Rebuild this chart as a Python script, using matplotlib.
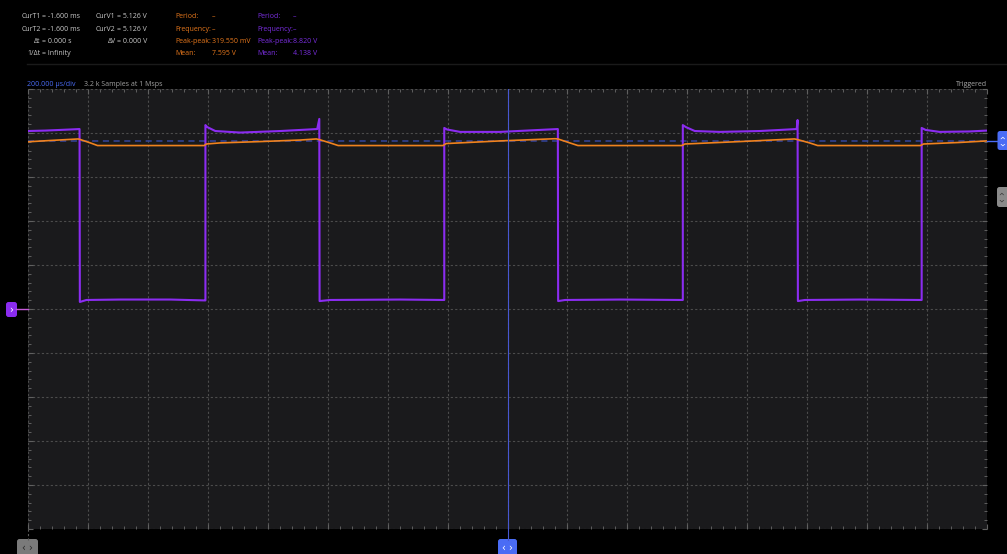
import matplotlib.pyplot as plt
import matplotlib.transforms as mtransforms
from matplotlib.patches import FancyBboxPatch
from matplotlib.lines import Line2D
from matplotlib.ticker import MultipleLocator

plt.rcParams['font.family'] = ['Open Sans', 'DejaVu Sans']

# --- data (time in us, volts; both channels 2 V/div, ground at centre)
ch1_t = [-1600, -1542, -1458, -1428, -1427, -1405, -1292, -1125, -1010, -1008, -1008, -1002,
         -975, -892, -758, -635, -628, -627, -592, -358, -212, -211, -211, -202, -158, -25,
         108, 168, 169, 192, 375, 583, 585, 585, 595, 625, 708, 842, 965, 968, 969, 992,
         1175, 1380, 1382, 1382, 1395, 1442, 1542, 1600]
ch1_v = [8.09, 8.11, 8.16, 8.18, 0.32, 0.41, 0.43, 0.43, 0.39, 0.39, 8.36, 8.27,
         8.09, 8.02, 8.09, 8.18, 8.64, 0.36, 0.41, 0.43, 0.41, 0.41, 8.23, 8.16, 8.05, 8.05,
         8.14, 8.18, 0.36, 0.41, 0.43, 0.41, 0.41, 8.36, 8.27, 8.09, 8.05, 8.09, 8.18, 8.59,
         0.36, 0.41, 0.43, 0.41, 0.41, 8.23, 8.14, 8.05, 8.07, 8.11]

ch2_t = [-1600, -1525, -1432, -1425, -1392, -1368, -1192, -1012, -1005, -958, -825, -692,
         -638, -628, -592, -565, -358, -215, -205, -25, 158, 168, 208, 235, 442, 582, 592,
         775, 958, 968, 1008, 1035, 1242, 1378, 1388, 1508, 1600]
ch2_v = [7.60, 7.66, 7.73, 7.70, 7.55, 7.43, 7.43, 7.43, 7.50, 7.55, 7.61, 7.68,
         7.73, 7.70, 7.55, 7.43, 7.43, 7.43, 7.52, 7.64, 7.74, 7.73, 7.55, 7.43, 7.43, 7.43,
         7.50, 7.61, 7.73, 7.70, 7.55, 7.43, 7.43, 7.43, 7.50, 7.57, 7.64]

trigger_level = 7.64
cursor_t = 0

cursor_labels = ['CurT1', 'CurT2', '\u0394t', '1/\u0394t']
cursor_values = ['= -1.600 ms', '= -1.600 ms', '= 0.000 s', '= Infinity']
volt_labels = ['CurV1', 'CurV2', '\u0394V']
volt_values = ['= 5.126 V', '= 5.126 V', '= 0.000 V']
meas_labels = ['Period:', 'Frequency:', 'Peak-peak:', 'Mean:']
ch2_meas = ['\u2013', '\u2013', '319.550 mV', '7.595 V']
ch1_meas = ['\u2013', '\u2013', '8.820 V', '4.138 V']

PURPLE = '#8b2cf0'
ORANGE = '#f0821e'
BLUE = '#4a6cf5'

W, H = 1007, 554
fig = plt.figure(figsize=(W / 100, H / 100), dpi=100, facecolor='black')
# pixel coords measured from the top-left corner
pix = mtransforms.Affine2D().scale(1 / W, -1 / H).translate(0, 1) + fig.transFigure

ax = fig.add_axes([28 / W, 1 - 529 / H, 959 / W, 440 / H])
ax.set_facecolor('#1a1a1c')
ax.set_xlim(-1600, 1600)
ax.set_ylim(-10, 10)
ax.xaxis.set_major_locator(MultipleLocator(200))
ax.xaxis.set_minor_locator(MultipleLocator(40))
ax.yaxis.set_major_locator(MultipleLocator(2))
ax.yaxis.set_minor_locator(MultipleLocator(0.4))
ax.grid(True, which='major', color='#4c4c4c', linestyle=(0, (2, 2)), linewidth=0.8)
ax.tick_params(which='both', direction='in', top=True, right=True, bottom=True, left=True,
               labelbottom=False, labelleft=False, color='#606060')
ax.tick_params(which='major', length=3.5, width=0.8)
ax.tick_params(which='minor', length=2.2, width=0.7)
for s in ax.spines.values():
    s.set_visible(False)

# traces
ax.axhline(trigger_level, color='#34459c', linestyle=(0, (4, 3)), linewidth=1.1, zorder=2)
ax.plot(ch1_t, ch1_v, color=PURPLE, linewidth=1.5, zorder=3)
ax.plot(ch2_t, ch2_v, color=ORANGE, linewidth=1.2, zorder=4)
ax.axvline(cursor_t, color='#4757d0', linewidth=0.8, zorder=5)

# header block
fs = 5.0
for i in range(4):
    y = 17 + i * 12.3
    fig.text(40.5, y, cursor_labels[i], color='#c8c8c8', fontsize=fs, ha='right', va='center', transform=pix)
    fig.text(42, y, cursor_values[i], color='#c8c8c8', fontsize=fs, ha='left', va='center', transform=pix)
    if i < 3:
        fig.text(115.5, y, volt_labels[i], color='#c8c8c8', fontsize=fs, ha='right', va='center', transform=pix)
        fig.text(117, y, volt_values[i], color='#c8c8c8', fontsize=fs, ha='left', va='center', transform=pix)
    fig.text(175, y, meas_labels[i], color='#e5771c', fontsize=fs, ha='left', va='center', transform=pix)
    fig.text(212, y, ch2_meas[i], color='#e5771c', fontsize=fs, ha='left', va='center', transform=pix)
    fig.text(257, y, meas_labels[i], color='#7a2ee0', fontsize=fs, ha='left', va='center', transform=pix)
    fig.text(293, y, ch1_meas[i], color='#7a2ee0', fontsize=fs, ha='left', va='center', transform=pix)

fig.add_artist(Line2D([27, W], [64, 64], color='#1a1a1a', linewidth=1, transform=pix))

fig.text(27, 84, '200.000 \u00b5s/div', color=BLUE, fontsize=fs, ha='left', va='center', transform=pix)
fig.text(84, 84, '3.2 k Samples at 1 Msps', color='#a0a0a0', fontsize=fs, ha='left', va='center', transform=pix)
fig.text(987, 84, 'Triggered', color='#a8a8a8', fontsize=fs, ha='right', va='center', transform=pix)


# little rounded handles around the plot
def handle(x0, y0, x1, y1, fc, txt, tc, rot=0):
    box = FancyBboxPatch((x0, y0), x1 - x0, y1 - y0, boxstyle='round,pad=0,rounding_size=2.5',
                         fc=fc, ec='none', transform=pix)
    fig.add_artist(box)
    fig.text((x0 + x1) / 2, (y0 + y1) / 2, txt, color=tc, fontsize=7, ha='center', va='center',
             rotation=rot, transform=pix, family='DejaVu Sans')


fig.add_artist(Line2D([16, 28], [309, 309], color='#c45ad8', linewidth=1, transform=pix))
handle(6, 302, 17, 317, PURPLE, '\u203a', 'white')

fig.add_artist(Line2D([987, 998], [141, 141], color=BLUE, linewidth=1, transform=pix))
handle(997.5, 131, 1010, 150, BLUE, '\u2039 \u203a', 'white', rot=90)
handle(997, 187, 1010, 207, '#8a8a8a', '\u2039 \u203a', '#3a3a3a', rot=90)

fig.add_artist(Line2D([28, 28], [529, 540], color='#5a5a5a', linewidth=0.8, linestyle=(0, (2, 2)), transform=pix))
handle(17, 539, 38, 557, '#7a7a7a', '\u2039 \u203a', '#2a2a2a')

fig.add_artist(Line2D([507.5, 507.5], [529, 540], color='#4757d0', linewidth=0.8, transform=pix))
handle(498, 539, 517, 557, BLUE, '\u2039 \u203a', 'white')

fig.savefig('out.png', dpi=100, facecolor='black')
